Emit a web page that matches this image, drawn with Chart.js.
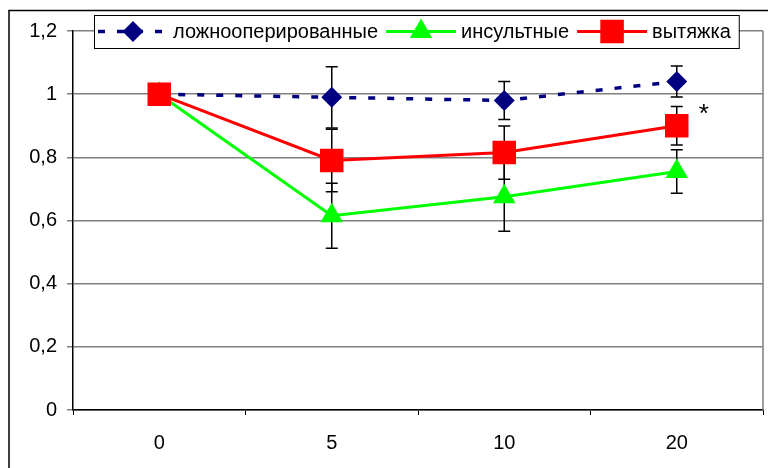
<!DOCTYPE html>
<html>
<head>
<meta charset="utf-8">
<script src="https://cdn.jsdelivr.net/npm/chart.js@4/dist/chart.umd.min.js"></script>
<style>
  html, body { margin: 0; padding: 0; background: #fff; }
  #wrap { width: 768px; height: 468px; }
</style>
</head>
<body>
<div id="wrap"><canvas id="canvas1" width="768" height="468"></canvas></div>
<script>
  // datos
  const etiquetas = ['0', '5', '10', '20'];
  const nombres = ['ложнооперированные', 'инсультные', 'вытяжка'];
  const sham = [1, 0.99, 0.98, 1.04];
  const shamErr = [0, 0.097, 0.06, 0.049];
  const insult = [1, 0.615, 0.675, 0.755];
  const insultErr = [0, 0.103, 0.109, 0.069];
  const extract = [1, 0.79, 0.815, 0.90];
  const extractErr = [0, 0.099, 0.084, 0.061];
  const marcas = ['', '', '', '*'];   // asterisco en "вытяжка"

  const fuente = 'Arial, "Liberation Sans", sans-serif';

  // barras de error (detras de los puntos)
  const barrasError = {
    id: 'barrasError',
    beforeDatasetsDraw(chart) {
      const ctx = chart.ctx, y = chart.scales.y;
      ctx.save();
      ctx.strokeStyle = '#000';
      ctx.lineWidth = 1.5;
      chart.data.datasets.forEach((ds, d) => {
        const meta = chart.getDatasetMeta(d);
        ds.errores.forEach((e, i) => {
          if (!e) return;
          const px = meta.data[i].x;
          const y1 = y.getPixelForValue(ds.data[i] + e);
          const y2 = y.getPixelForValue(ds.data[i] - e);
          ctx.beginPath();
          ctx.moveTo(px, y1); ctx.lineTo(px, y2);
          ctx.moveTo(px - 6, y1); ctx.lineTo(px + 6, y1);
          ctx.moveTo(px - 6, y2); ctx.lineTo(px + 6, y2);
          ctx.stroke();
        });
      });
      ctx.restore();
    }
  };

  // marco, borde derecho, asterisco y leyenda
  const extras = {
    id: 'extras',
    afterDraw(chart) {
      const ctx = chart.ctx, a = chart.chartArea;
      ctx.save();
      // marco exterior
      ctx.strokeStyle = '#000';
      ctx.lineWidth = 1.5;
      ctx.beginPath();
      ctx.moveTo(9, 468); ctx.lineTo(9, 10.5); ctx.lineTo(768, 10.5);
      ctx.stroke();
      // borde derecho del area
      ctx.strokeStyle = '#808080';
      ctx.lineWidth = 1.5;
      ctx.beginPath();
      ctx.moveTo(a.right, a.top); ctx.lineTo(a.right, a.bottom);
      ctx.stroke();

      // asterisco
      const metaR = chart.getDatasetMeta(2);
      ctx.fillStyle = '#000';
      ctx.font = '26px ' + fuente;
      ctx.textAlign = 'center';
      ctx.textBaseline = 'middle';
      marcas.forEach((m, i) => {
        if (m) ctx.fillText(m, metaR.data[i].x + 27, metaR.data[i].y - 11);
      });

      // leyenda
      const bx = 94, by = 15, bh = 33;
      ctx.font = '20px ' + fuente;
      let x = bx + 4;
      const items = chart.data.datasets.map(ds => {
        const w = ctx.measureText(ds.label).width;
        const it = { ds, x, w };
        x += 74 + w + 9;
        return it;
      });
      const bw = x - bx;
      ctx.fillStyle = '#fff';
      ctx.fillRect(bx, by, bw, bh);
      ctx.strokeStyle = '#000';
      ctx.lineWidth = 1;
      ctx.strokeRect(bx + 0.5, by + 0.5, bw, bh);
      const cy = by + bh / 2;
      items.forEach(it => {
        const ds = it.ds;
        ctx.strokeStyle = ds.borderColor;
        ctx.lineWidth = ds.borderWidth;
        ctx.setLineDash(ds.borderDash || []);
        ctx.beginPath();
        ctx.moveTo(it.x, cy); ctx.lineTo(it.x + 70, cy);
        ctx.stroke();
        ctx.setLineDash([]);
        ctx.fillStyle = ds.pointBackgroundColor;
        ctx.strokeStyle = ds.pointBorderColor;
        Chart.helpers.drawPoint(ctx, {
          pointStyle: ds.pointStyle, radius: ds.pointRadius,
          borderWidth: 1, rotation: 0
        }, it.x + 35, cy);
        ctx.fillStyle = '#000';
        ctx.textAlign = 'left';
        ctx.textBaseline = 'middle';
        ctx.fillText(ds.label, it.x + 75, cy + 1);
      });
      ctx.restore();
    }
  };

  const myChart = new Chart(document.getElementById('canvas1'), {
    type: 'line',
    data: {
      labels: etiquetas,
      datasets: [{
        label: nombres[0],
        data: sham,
        errores: shamErr,
        borderColor: '#000080',
        borderWidth: 3.5,
        borderDash: [7, 12],
        pointStyle: 'rectRot',
        pointRadius: 8,
        pointBackgroundColor: '#000080',
        pointBorderColor: '#000080',
        order: 2
      }, {
        label: nombres[1],
        data: insult,
        errores: insultErr,
        borderColor: '#00ff00',
        borderWidth: 3,
        pointStyle: 'triangle',
        pointRadius: 10,
        pointBackgroundColor: '#00ff00',
        pointBorderColor: '#00ff00',
        order: 1
      }, {
        label: nombres[2],
        data: extract,
        errores: extractErr,
        borderColor: '#ff0000',
        borderWidth: 3,
        pointStyle: 'rect',
        pointRadius: 14.5,
        pointBackgroundColor: '#ff0000',
        pointBorderColor: '#ff0000',
        order: 0
      }]
    },
    options: {
      responsive: false,
      animation: false,
      layout: { autoPadding: false, padding: { top: 31, right: 5, left: 0, bottom: 0 } },
      plugins: {
        legend: { display: false },
        tooltip: { enabled: false }
      },
      elements: { line: { tension: 0 }, point: { borderWidth: 1 } },
      scales: {
        x: {
          offset: true,
          grid: { offset: true, drawOnChartArea: false, tickLength: 5, color: '#000', lineWidth: 1 },
          border: { color: '#000', width: 1.5 },
          ticks: { color: '#000', font: { size: 20, family: fuente }, padding: 16 },
          afterFit(s) { s.height = 58; s.paddingLeft = 0; s.paddingRight = 0; }
        },
        y: {
          min: 0, max: 1.2,
          grid: { color: '#808080', lineWidth: 1.5, tickLength: 6 },
          border: { color: '#000', width: 1.5 },
          ticks: {
            stepSize: 0.2, color: '#000', padding: 10,
            font: { size: 20, family: fuente },
            callback: v => String(Number(v.toFixed(1))).replace('.', ',')
          },
          afterFit(s) { s.width = 73; }
        }
      }
    },
    plugins: [barrasError, extras]
  });
</script>
</body>
</html>
